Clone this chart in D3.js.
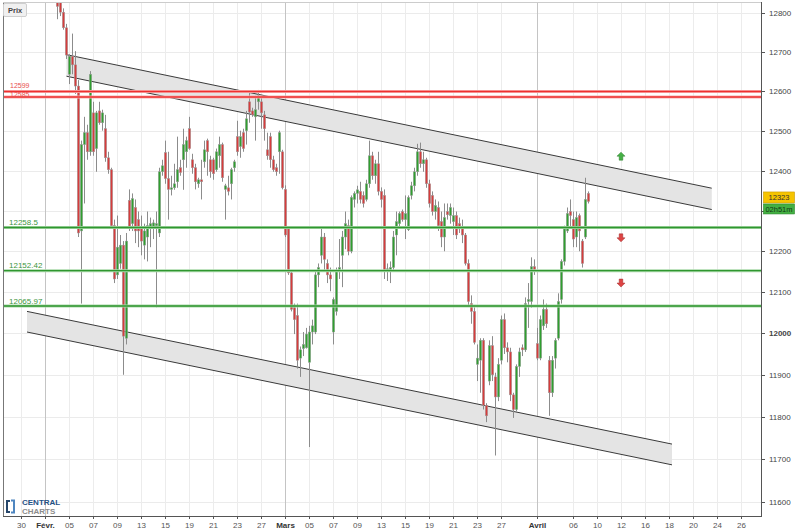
<!DOCTYPE html>
<html><head><meta charset="utf-8">
<script src="https://cdn.jsdelivr.net/npm/d3@7"></script>
<style>body{margin:0;background:#fff;} svg{display:block;font-family:Arial,"Liberation Sans",sans-serif;}</style>
</head><body><svg id="c" width="806" height="532"></svg>
<script>
// ---------- DATA ----------
const holidays = ["2018-03-30", "2018-04-02"];
const firstCandleDay = "2018-02-02";     // 4 candles per trading day
const open = [12842,12832,12802,12762, 12643,12689,12667,12613, 12250,12465,12495,12447, 12545,12455,12550,12520, 12505,12432,12402,12263, 12142,12170,12215,11988, 12326,12268,12308,12278, 12258,12215,12235,12258, 12258,12263,12245,12397, 12445,12380,12353,12357, 12372,12407,12427,12447, 12505,12427,12407,12367, 12377,12422,12475,12427, 12427,12402,12437,12465, 12353,12357,12367,12407, 12485,12460,12495,12500, 12573,12550,12535,12573, 12573,12540,12452,12485, 12427,12407,12447,12447, 12353,12255,12147,12062, 12043,11940,11963,11965, 11930,12003,12003,12142, 12190,12235,12170,12142, 12003,12053,12152,12190, 12235,12263,12200,12328, 12343,12348,12338,12328, 12367,12437,12387,12417, 12348,12338,12152,12152, 12160,12240,12268,12298, 12278,12253,12338,12362, 12397,12447,12417,12427, 12367,12338,12298,12308, 12273,12235,12298,12288, 12273,12288,12268,12258, 12240,12170,12072,12053, 11925,11935,11983,11827, 11885,11970,11895,11847, 11935,12033,11965,11955, 11852,11817,11920,11965, 11960,12077,12077,12162, 11975,11940,12018,12058, 11935,11857,11940,11988, 12082,12175,12250,12298, 12278,12235,12288,12225, 12235,12343];
const high = [12872,12847,12812,12772, 12694,12747,12702,12628, 12475,12535,12515,12651, 12573,12550,12573,12553, 12540,12447,12407,12278, 12288,12240,12225,12245, 12353,12343,12328,12298, 12288,12268,12298,12283, 12278,12298,12407,12427, 12475,12447,12387,12417, 12485,12427,12505,12485, 12535,12442,12417,12382, 12427,12475,12480,12437, 12432,12455,12485,12470, 12367,12387,12407,12427, 12525,12500,12505,12550, 12598,12558,12588,12603, 12583,12550,12495,12495, 12437,12417,12500,12452, 12363,12258,12152,12072, 12072,11968,12003,12013, 12018,12033,12152,12170, 12255,12245,12180,12160, 12087,12160,12230,12250, 12298,12278,12338,12348, 12362,12372,12348,12377, 12475,12447,12427,12447, 12358,12353,12170,12175, 12250,12298,12298,12303, 12338,12338,12372,12407, 12467,12470,12447,12432, 12377,12348,12328,12323, 12298,12318,12318,12318, 12308,12298,12283,12278, 12245,12180,12092,12063, 11973,11988,11988,11832, 11983,11993,11905,11940, 12043,12048,11978,11965, 11857,11925,11965,11973, 12087,12122,12185,12180, 12013,12043,12082,12072, 11945,11945,11988,12097, 12180,12263,12308,12328, 12298,12298,12293,12230, 12382,12348];
const low = [12784,12792,12757,12682, 12618,12643,12593,12235, 12072,12318,12427,12437, 12437,12397,12515,12500, 12422,12392,12255,12122, 12132,12157,11900,11973, 12250,12250,12220,12210, 12190,12180,12175,12210, 12230,12063,12235,12387, 12367,12278,12338,12352, 12357,12387,12352,12407, 12452,12392,12353,12357, 12328,12407,12387,12382, 12377,12397,12407,12372, 12278,12338,12328,12397, 12437,12432,12447,12465, 12520,12535,12475,12553, 12505,12475,12427,12407, 12397,12387,12392,12353, 12235,12142,12053,11998, 11915,11895,11945,11963, 11728,11973,11998,12112, 12170,12152,12122,12102, 11973,12043,12132,12112, 12205,12190,12195,12308, 12318,12318,12308,12323, 12357,12377,12367,12338, 12308,12132,12127,12122, 12152,12190,12258,12273, 12230,12250,12328,12348, 12387,12407,12397,12357, 12308,12288,12278,12250, 12210,12200,12278,12268, 12240,12230,12245,12220, 12165,12067,12023,11973, 11885,11857,11817,11787, 11875,11885,11708,11837, 11925,11950,11930,11837, 11797,11812,11895,11945, 11955,12013,12062,12142, 11935,11935,12008,12013, 11802,11847,11915,11983, 12072,12165,12245,12255, 12210,12210,12200,12160, 12230,12318];
const close = [12817,12802,12762,12692, 12689,12667,12613,12245, 12465,12495,12447,12643, 12447,12545,12520,12545, 12432,12402,12263,12132, 12210,12215,11993,12225, 12258,12330,12250,12250, 12225,12250,12263,12268, 12270,12268,12397,12412, 12380,12353,12357,12367, 12402,12395,12465,12475, 12455,12407,12372,12377, 12372,12452,12447,12397, 12392,12447,12465,12382, 12362,12348,12402,12422, 12447,12485,12455,12530, 12547,12540,12553,12588, 12545,12505,12437,12427, 12402,12397,12495,12357, 12240,12147,12058,12033, 11935,11960,11973,11998, 12003,12018,12142,12160, 12235,12180,12142,12132, 12082,12152,12160,12235, 12268,12200,12333,12343, 12352,12328,12318,12367, 12437,12387,12417,12348, 12328,12152,12157,12160, 12235,12273,12293,12278, 12293,12333,12362,12397, 12447,12417,12427,12367, 12318,12298,12313,12263, 12235,12283,12290,12308, 12288,12240,12255,12240, 12170,12077,12053,11978, 11940,11983,11827,11802, 11970,11900,11847,11925, 12033,11965,11955,11852, 11817,11920,11955,11960, 12072,12082,12162,12152, 11940,12033,12058,12023, 11857,11935,11983,12077, 12175,12255,12293,12288, 12230,12283,12250,12170, 12328,12323];

const yTicks = [11600,11700,11800,11900,12000,12100,12200,12300,12400,12500,12600,12700,12800];
const xTickDates = ["2018-01-30","2018-02-01","2018-02-05","2018-02-07","2018-02-09","2018-02-13","2018-02-15","2018-02-19","2018-02-21","2018-02-23","2018-02-27","2018-03-01","2018-03-05","2018-03-07","2018-03-09","2018-03-13","2018-03-15","2018-03-19","2018-03-21","2018-03-23","2018-03-27","2018-04-03","2018-04-06","2018-04-10","2018-04-12","2018-04-16","2018-04-18","2018-04-20","2018-04-24","2018-04-26"];
const xTickLabels = ["30","Févr.","05","07","09","13","15","19","21","23","27","Mars","05","07","09","13","15","19","21","23","27","Avril","06","10","12","16","18","20","24","26"];
const monthLabels = ["Févr.","Mars","Avril"];

const resistanceLevels = [12599, 12585];
const supportLevels = [12258.5, 12152.42, 12065.97];
const supportLabels = ["12258.5", "12152.42", "12065.97"];

// channels: [startDayIndex, endDayIndex, topStart, topEnd, bottomStart, bottomEnd]
const upperChannel = [3.79, 57.56, 12693, 12356, 12638, 12303];
const lowerChannel = [0.5, 54.25, 12053, 11735, 12003, 11686];

const arrowDay = "2018-04-12";
const arrowPrices = [12436, 12233, 12122];
const arrowDirs = ["up", "down", "down"];
const lastPrice = 12323;
const countdown = "02h51m";

// ---------- CHART ----------
const fmt = d3.timeFormat("%Y-%m-%d");
const tradingDays = d3.timeDay.range(new Date(2018,0,30), new Date(2018,3,28))
  .filter(d => d.getDay() !== 0 && d.getDay() !== 6 && !holidays.includes(fmt(d))).map(fmt);
const dayIdx = s => tradingDays.indexOf(s);

const P = {l:3, r:761, t:2, b:516};
const x = d3.scaleLinear().domain([0, 60]).range([21, 741]);
const y = d3.scaleLog().domain([11600, 12800]).range([501.5, 13]);

const svg = d3.select("#c");
svg.append("rect").attr("width",806).attr("height",532).attr("fill","#fff");
svg.append("defs").append("clipPath").attr("id","clip").append("rect")
  .attr("x",P.l).attr("y",P.t).attr("width",P.r-P.l).attr("height",P.b-P.t);
const g = svg.append("g").attr("clip-path","url(#clip)");

// grid
yTicks.forEach(v => {
  const yy = Math.round(y(v)) + 0.5;
  g.append("line").attr("x1",P.l).attr("x2",P.r).attr("y1",yy).attr("y2",yy).attr("stroke","#ebebeb");
});
xTickDates.forEach((d,i) => {
  const xx = Math.round(x(dayIdx(d))) + 0.5;
  const isMonth = monthLabels.includes(xTickLabels[i]);
  g.append("line").attr("x1",xx).attr("x2",xx).attr("y1",P.t).attr("y2",P.b)
    .attr("stroke", isMonth ? "#c4c4c4" : "#ececec");
});

// channels
function channel(c) {
  const [d0, d1, t0, t1, b0, b1] = c;
  const pts = [[x(d0), y(t0)], [x(d1), y(t1)], [x(d1), y(b1)], [x(d0), y(b0)]];
  g.append("path").attr("d", "M" + pts.map(p => p.join(",")).join("L") + "Z")
    .attr("fill","#e4e4e4").attr("stroke","none");
  g.append("line").attr("x1",pts[0][0]).attr("y1",pts[0][1]).attr("x2",pts[1][0]).attr("y2",pts[1][1])
    .attr("stroke","#3a3a3a").attr("stroke-width",1);
  g.append("line").attr("x1",pts[3][0]).attr("y1",pts[3][1]).attr("x2",pts[2][0]).attr("y2",pts[2][1])
    .attr("stroke","#3a3a3a").attr("stroke-width",1);
}
channel(upperChannel);
channel(lowerChannel);

// candles
const n = Math.min(open.length, high.length, low.length, close.length);
const d0 = dayIdx(firstCandleDay);
const candles = d3.range(n).map(i => ({t: d0 + Math.floor(i/4) + (i%4)/4, o: open[i], h: high[i], l: low[i], c: close[i]}));
const cg = g.append("g");
candles.forEach(c => {
  const cx = Math.round(x(c.t)) + 0.5;
  cg.append("line").attr("x1",cx).attr("x2",cx)
    .attr("y1", y(Math.max(c.h,c.o,c.c))).attr("y2", y(Math.min(c.l,c.o,c.c)))
    .attr("stroke","#8c8c8c").attr("stroke-width",1);
  const top = y(Math.max(c.o,c.c)), bot = y(Math.min(c.o,c.c));
  const col = c.c > c.o ? "#2f9f2f" : (c.c < c.o ? "#d63c3c" : "#888");
  cg.append("rect").attr("x",cx-1.2).attr("width",2.4).attr("y",top).attr("height",Math.max(1,bot-top))
    .attr("fill",col).attr("stroke","#a0a0a0").attr("stroke-width",0.5);
});

// horizontal levels
function level(v, col, halo) {
  const yy = y(v);
  g.append("line").attr("x1",P.l).attr("x2",P.r).attr("y1",yy).attr("y2",yy).attr("stroke",halo).attr("stroke-width",3);
  g.append("line").attr("x1",P.l).attr("x2",P.r).attr("y1",yy).attr("y2",yy).attr("stroke",col).attr("stroke-width",1.4);
}
resistanceLevels.forEach(v => level(v, "#ee3030", "#f7b0b0"));
supportLevels.forEach(v => level(v, "#2f962f", "#a8d8a8"));
resistanceLevels.forEach((v,i) => g.append("text").attr("x",10).attr("y",y(v) - (i === 0 ? 4 : 0.2)).attr("font-size",7)
  .attr("fill","#e85050").text(String(v)));
supportLevels.forEach((v,i) => g.append("text").attr("x",9).attr("y",y(v)-2.5).attr("font-size",8)
  .attr("fill","#3d963d").text(supportLabels[i]));

// arrows
arrowPrices.forEach((v,i) => {
  const cx = x(dayIdx(arrowDay)), cy = y(v);
  const s = arrowDirs[i] === "up" ? -1 : 1;
  const path = `M${cx-4},${cy} L${cx},${cy+4*s} L${cx+4},${cy} L${cx+1.8},${cy} L${cx+1.8},${cy-4*s} L${cx-1.8},${cy-4*s} L${cx-1.8},${cy} Z`;
  g.append("path").attr("d",path)
    .attr("fill", s < 0 ? "#45b045" : "#dd4444")
    .attr("stroke", s < 0 ? "#2a7a2a" : "#a02a2a").attr("stroke-width",0.5);
});

// frame & axes
svg.append("line").attr("x1",P.l+0.5).attr("x2",P.l+0.5).attr("y1",P.t).attr("y2",P.b).attr("stroke","#777");
svg.append("line").attr("x1",P.l).attr("x2",P.r).attr("y1",P.t+0.5).attr("y2",P.t+0.5).attr("stroke","#cccccc");
svg.append("line").attr("x1",P.r+0.5).attr("x2",P.r+0.5).attr("y1",P.t).attr("y2",P.b+0.5).attr("stroke","#555");
svg.append("line").attr("x1",P.l).attr("x2",P.r+1).attr("y1",P.b+0.5).attr("y2",P.b+0.5).attr("stroke","#555");

const py = y(lastPrice);
yTicks.forEach(v => {
  const yy = Math.round(y(v)) + 0.5;
  svg.append("line").attr("x1",P.r).attr("x2",P.r+4).attr("y1",yy).attr("y2",yy).attr("stroke","#555");
  if (Math.abs(yy - py) < 16) return;   // hidden behind the price tag, as in the original
  svg.append("text").attr("x",P.r+8).attr("y",yy).attr("dy","0.35em").attr("font-size",8)
    .attr("font-weight", v === 12000 ? "bold" : "normal").attr("fill","#444").text(v);
});
xTickDates.forEach((d,i) => {
  const xx = Math.round(x(dayIdx(d))) + 0.5;
  const isMonth = monthLabels.includes(xTickLabels[i]);
  svg.append("line").attr("x1",xx).attr("x2",xx).attr("y1",P.b).attr("y2",P.b+3).attr("stroke","#555");
  svg.append("text").attr("x",xx).attr("y",528).attr("text-anchor","middle").attr("font-size",8)
    .attr("font-weight", isMonth ? "bold" : "normal").attr("fill", isMonth ? "#333" : "#555")
    .text(xTickLabels[i]);
});

// price tag
svg.append("rect").attr("x",763.5).attr("y",py-9.5).attr("width",31).attr("height",11)
  .attr("fill","#f6c400").attr("stroke","#c99a00").attr("stroke-width",0.6);
svg.append("text").attr("x",779).attr("y",py-1.3).attr("text-anchor","middle")
  .attr("font-size",7.5).attr("fill","#333").text(lastPrice);
svg.append("rect").attr("x",763.5).attr("y",py+2.5).attr("width",31).attr("height",10)
  .attr("fill","#43b043").attr("stroke","#2c862c").attr("stroke-width",0.6);
svg.append("text").attr("x",779).attr("y",py+10.2).attr("text-anchor","middle")
  .attr("font-size",7.5).attr("fill","#143814").text(countdown);

// Prix button
svg.append("rect").attr("x",3.5).attr("y",3.5).attr("width",23).attr("height",13).attr("rx",1.5)
  .attr("fill","#f0f0f0").attr("stroke","#cfcfcf");
svg.append("text").attr("x",8).attr("y",13).attr("font-size",7.5).attr("font-weight","bold").attr("fill","#444").text("Prix");

// logo
const lg = svg.append("g");
lg.append("rect").attr("x",5).attr("y",499).attr("width",16).attr("height",16).attr("fill","#fff");
lg.append("path").attr("d","M6,500 L10,500 L10,502 L8,502 L8,511 L10,511 L10,513 L6,513 Z").attr("fill","#27476b");
lg.append("path").attr("d","M11,499.5 L15,499.5 L15,513.5 L11,513.5 L11,511.5 L13,511.5 L13,501.5 L11,501.5 Z").attr("fill","#4f86c0");
lg.append("text").attr("x",22).attr("y",505).attr("font-size",8).attr("font-weight","bold").attr("fill","#1f5186").text("CENTRAL");
lg.append("text").attr("x",22).attr("y",514).attr("font-size",8).attr("font-weight","bold").attr("fill","#8c8c8c").text("CHARTS");
</script></body></html>
